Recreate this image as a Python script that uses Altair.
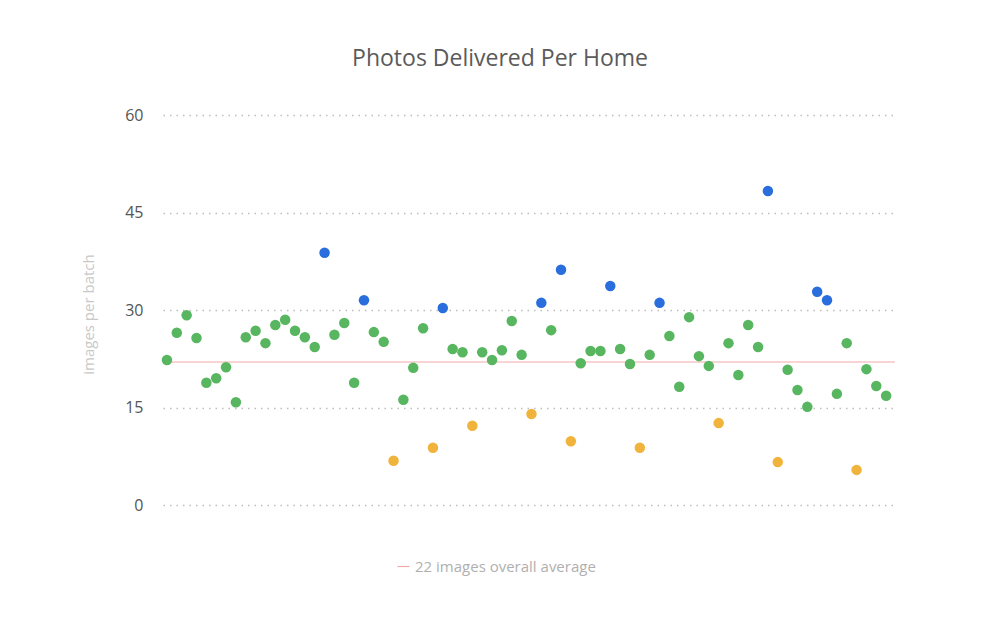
import altair as alt
import pandas as pd

# Images per batch for each home
values = [22.3, 26.5, 29.2, 25.7, 18.8, 19.5, 21.2, 15.8, 25.8, 26.8,
          24.9, 27.7, 28.5, 26.8, 25.8, 24.3, 38.8, 26.2, 28.0, 18.8,
          31.5, 26.6, 25.1, 6.8, 16.2, 21.1, 27.2, 8.8, 30.3, 24.0,
          23.5, 12.2, 23.5, 22.3, 23.8, 28.3, 23.1, 14.0, 31.1, 26.9,
          36.2, 9.8, 21.8, 23.7, 23.7, 33.7, 24.0, 21.7, 8.8, 23.1,
          31.1, 26.0, 18.2, 28.9, 22.9, 21.4, 12.6, 24.9, 20.0, 27.7,
          24.3, 48.3, 6.6, 20.8, 17.7, 15.1, 32.8, 31.5, 17.1, 24.9,
          5.4, 20.9, 18.3, 16.8]
homes = list(range(1, len(values) + 1))
average = [22]
avg_label = ["22 images overall average"]
groups = ["high" if v > 30 else ("low" if v < 15 else "normal") for v in values]
group_domain = ["high", "normal", "low"]
group_colors = ["#2a6ddd", "#57b65f", "#f0b43c"]
y_ticks = [0, 15, 30, 45, 60]

pts = pd.DataFrame({"home": homes, "images": values, "grp": groups})
avg = pd.DataFrame({"avg": average, "label": avg_label})

FONT = "Open Sans"

points = alt.Chart(pts).mark_circle(size=110, opacity=1).encode(
    x=alt.X("home:Q", scale=alt.Scale(domain=[0.6, 74.9], nice=False, zero=False), axis=None),
    y=alt.Y("images:Q",
            scale=alt.Scale(domain=[0, 60], nice=False),
            axis=alt.Axis(values=y_ticks, title="images per batch", grid=True,
                          gridDash=[1.5, 5], gridColor="#bdbdbd", gridWidth=1.5,
                          domain=False, ticks=False, labelPadding=20,
                          labelFontSize=16, labelColor="#555555", labelFont=FONT,
                          titleFontSize=15, titleColor="#c8c8c8", titleFont=FONT,
                          titleFontWeight="normal", titleX=-75, titleY=199,
                          titleAlign="center", titleBaseline="middle")),
    color=alt.Color("grp:N", scale=alt.Scale(domain=group_domain, range=group_colors), legend=None),
)

rule = alt.Chart(avg).mark_rule(strokeWidth=1).encode(
    y=alt.Y("avg:Q"),
    stroke=alt.Stroke("label:N", scale=alt.Scale(range=["#f2a9a9"]),
                      legend=alt.Legend(title=None, orient="none", legendX=233, legendY=444,
                                        symbolType="stroke", symbolSize=144,
                                        symbolStrokeWidth=1.2, labelLimit=0,
                                        labelFontSize=15, labelColor="#b0b0b0",
                                        labelFont=FONT)),
)

chart = alt.layer(rule, points).properties(
    width=732, height=390,
    autosize=alt.AutoSizeParams(type="none"),
    padding={"left": 155, "top": 107, "right": 85, "bottom": 115},
    title=alt.TitleParams("Photos Delivered Per Home", fontSize=23, color="#5a5a5a",
                          font=FONT, fontWeight="normal", offset=36, dx=-29,
                          anchor="middle"),
).configure_view(stroke=None)

chart.save("out.html", embed_options={"renderer": "svg", "actions": False})
